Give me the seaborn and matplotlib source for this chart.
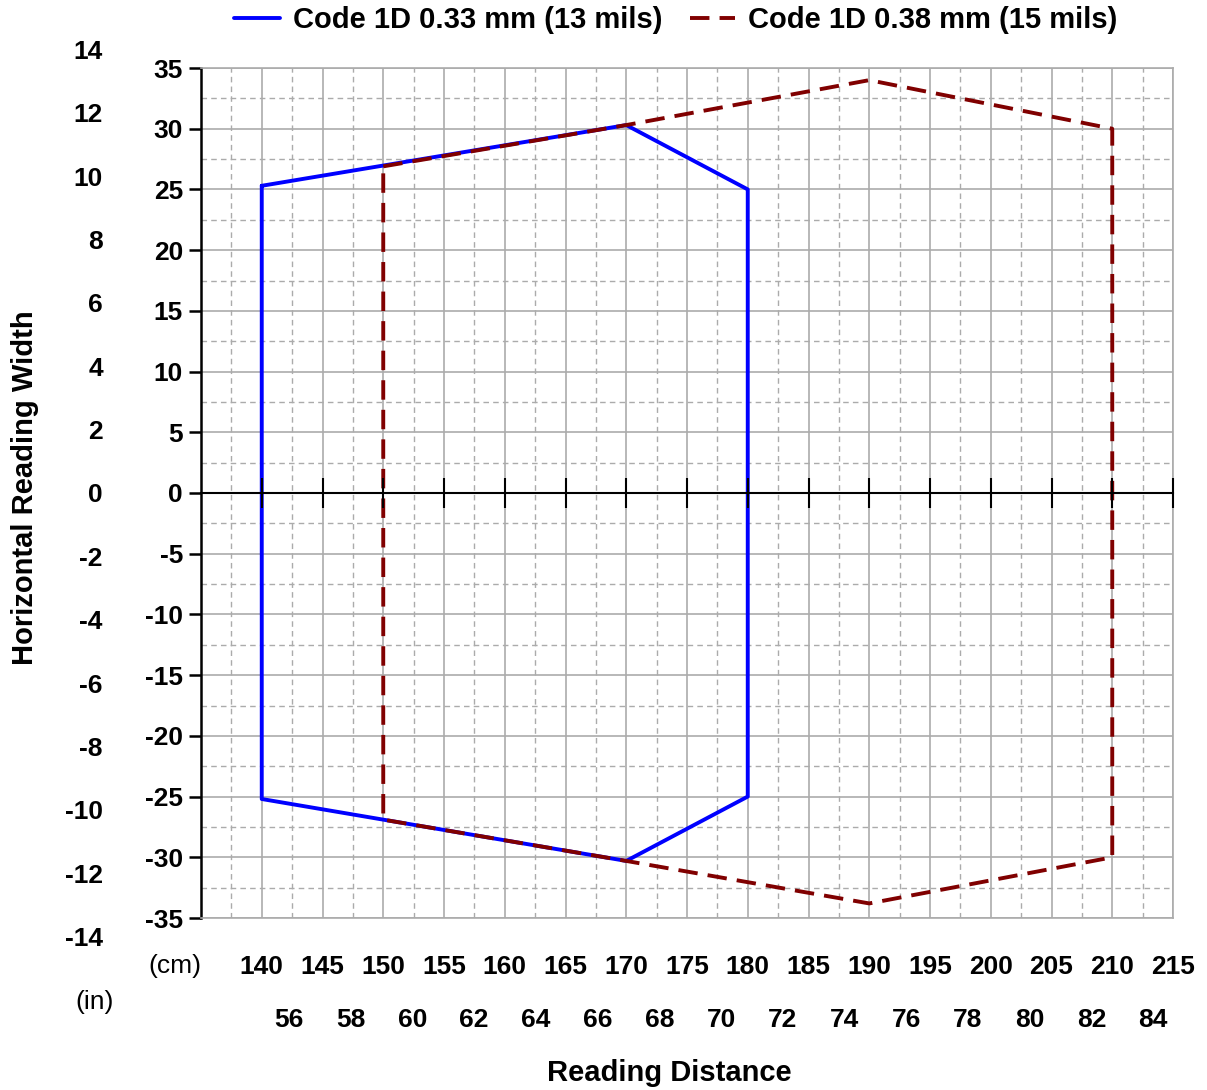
import numpy as np
import pandas as pd
import matplotlib
matplotlib.use("Agg")
import matplotlib.pyplot as plt
import matplotlib.transforms as mtransforms
import seaborn as sns

# Reading zone outlines (cm), traced clockwise and closed
dist_13 = [140, 170, 180, 180, 170, 140, 140]
width_13 = [25.3, 30.3, 25.0, -25.0, -30.3, -25.2, 25.3]

dist_15 = [150, 170, 190, 210, 210, 190, 170, 150, 150]
width_15 = [26.9, 30.3, 34.0, 30.0, -30.0, -33.8, -30.3, -26.9, 26.9]

label_13 = "Code 1D 0.33 mm (13 mils)"
label_15 = "Code 1D 0.38 mm (15 mils)"

cm_ticks = list(range(140, 220, 5))
y_ticks = list(range(-35, 40, 5))
inch_x = [56, 58, 60, 62, 64, 66, 68, 70, 72, 74, 76, 78, 80, 82, 84]
inch_y = [14, 12, 10, 8, 6, 4, 2, 0, -2, -4, -6, -8, -10, -12, -14]

df = pd.DataFrame({
    "distance": dist_13 + dist_15,
    "width": width_13 + width_15,
    "code": [label_13] * len(dist_13) + [label_15] * len(dist_15),
})

sns.set_theme(style="white")
plt.rcParams["font.family"] = ["Liberation Sans", "DejaVu Sans"]
for key in ["text.color", "axes.labelcolor", "xtick.color", "ytick.color"]:
    plt.rcParams[key] = "black"

TICK_FS = 19
LABEL_FS = 21
LW = 2.8

W, H = 1207, 1090
fig = plt.figure(figsize=(W / 100, H / 100), dpi=100)
L, R, T, B = 201, 1173, 68, 918
ax = fig.add_axes([L / W, 1 - B / H, (R - L) / W, (B - T) / H])

sns.lineplot(
    data=df, x="distance", y="width", hue="code", style="code",
    palette={label_13: "#0000ff", label_15: "#800000"},
    dashes={label_13: "", label_15: (5, 2.6)},
    estimator=None, sort=False, linewidth=LW, ax=ax, zorder=5,
)

ax.set_xlim(135, 215)
ax.set_ylim(-35, 35)

# grid: solid every 5, dashed half-way
ax.set_xticks(cm_ticks)
ax.set_xticks(np.arange(137.5, 215, 5), minor=True)
ax.set_yticks(y_ticks)
ax.set_yticks(np.arange(-32.5, 35, 5), minor=True)
ax.grid(which="major", color="#ababab", linewidth=1.2, linestyle="-")
ax.grid(which="minor", color="#ababab", linewidth=1.0, linestyle=(0, (4, 3)))
ax.set_axisbelow(True)

ax.set_xticklabels([str(v) for v in cm_ticks], fontsize=TICK_FS, fontweight="bold")
ax.set_yticklabels([str(v) for v in y_ticks], fontsize=TICK_FS, fontweight="bold")
ax.tick_params(axis="x", which="both", length=0, pad=27)
ax.tick_params(axis="y", which="major", length=9, width=1.8, color="black",
               direction="out", pad=4, left=True)
ax.tick_params(axis="y", which="minor", length=0)

for side in ["top", "right", "bottom"]:
    ax.spines[side].set_color("#ababab")
    ax.spines[side].set_linewidth(1.2)
ax.spines["left"].set_color("black")
ax.spines["left"].set_linewidth(1.8)

# zero axis with crossing ticks
ax2 = ax.twiny()
ax2.set_xlim(ax.get_xlim())
for side in ["top", "right", "left"]:
    ax2.spines[side].set_visible(False)
ax2.spines["bottom"].set_position(("data", 0))
ax2.spines["bottom"].set_color("black")
ax2.spines["bottom"].set_linewidth(1.5)
ax2.xaxis.set_ticks_position("bottom")
ax2.set_xticks(cm_ticks)
ax2.tick_params(axis="x", direction="inout", length=21, width=1.5,
                color="black", labelbottom=False, labeltop=False, top=False)
ax2.grid(False)

# inch labels
tx = mtransforms.blended_transform_factory(ax.transData, ax.transAxes)
for v in inch_x:
    ax.text(v * 2.54, -0.1176, str(v), transform=tx, ha="center",
            va="center_baseline", fontsize=TICK_FS, fontweight="bold")
ty = mtransforms.blended_transform_factory(ax.transAxes, ax.transData)
for v in inch_y:
    ax.text(-0.101, v * 2.61, str(v), transform=ty, ha="right",
            va="center_baseline", fontsize=TICK_FS, fontweight="bold")

ax.text((175 - L) / (R - L), (B - 966) / (B - T), "(cm)", transform=ax.transAxes,
        ha="center", va="center", fontsize=TICK_FS)
ax.text((95 - L) / (R - L), (B - 1002) / (B - T), "(in)", transform=ax.transAxes,
        ha="center", va="center", fontsize=TICK_FS)

ax.set_xlabel("Reading Distance", fontsize=LABEL_FS, fontweight="bold", va="center")
ax.xaxis.set_label_coords((669 - L) / (R - L), (B - 1073) / (B - T))
ax.set_ylabel("Horizontal Reading Width", fontsize=LABEL_FS, fontweight="bold",
              va="center")
ax.yaxis.set_label_coords((25 - L) / (R - L), (B - 488) / (B - T))

leg = ax.legend(loc="center", bbox_to_anchor=((676 - L) / (R - L), (B - 20) / (B - T)),
                ncol=2, frameon=False, handlelength=1.55, handletextpad=0.45,
                columnspacing=0.95, prop={"size": LABEL_FS, "weight": "bold"})
for line in leg.get_lines():
    line.set_linewidth(LW)

fig.savefig("out.png", dpi=100)
